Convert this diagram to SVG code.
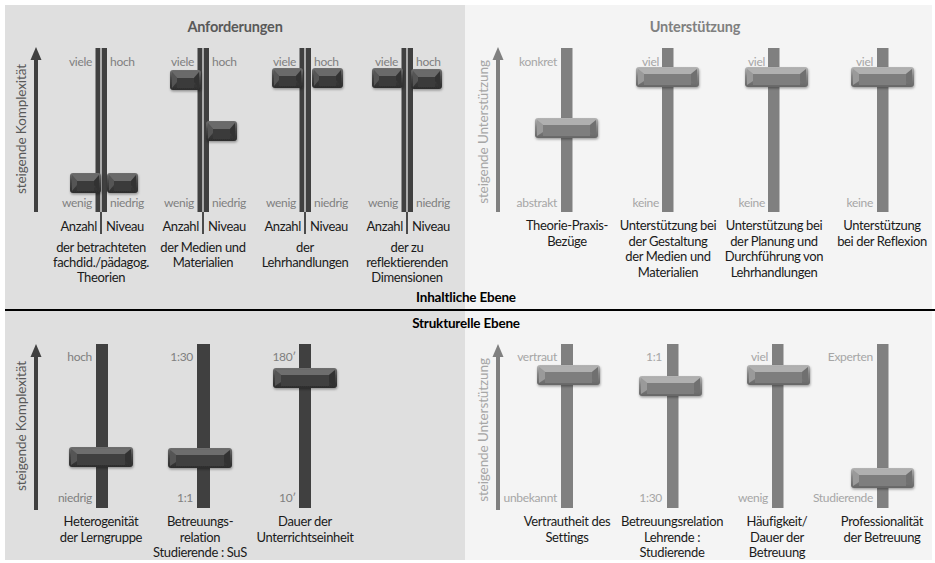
<svg xmlns="http://www.w3.org/2000/svg" xmlns:xlink="http://www.w3.org/1999/xlink" width="935" height="563" viewBox="0 0 935 563">
<style>
text{font-family:Lato,"Liberation Sans",sans-serif;}
.title{font-size:14.5px;font-weight:bold;text-anchor:middle;letter-spacing:-0.2px;}
.level{font-size:13.5px;font-weight:bold;text-anchor:middle;fill:#000;letter-spacing:-0.2px;}
.lblL{font-size:12px;fill:#808080;letter-spacing:-0.3px;}
.lblR{font-size:12px;fill:#a6a6a6;letter-spacing:-0.3px;}
.end{text-anchor:end;}
.cap{font-size:13px;fill:#1a1a1a;text-anchor:middle;letter-spacing:-0.35px;}
.axis{font-size:13.5px;text-anchor:middle;letter-spacing:-0.1px;}
.barD{fill:#404040;}
.barL{fill:#808080;}
</style>
<defs>
<linearGradient id="gD" x1="0" y1="0" x2="0" y2="1">
<stop offset="0" stop-color="#707070"/><stop offset="0.45" stop-color="#454545"/><stop offset="1" stop-color="#2c2c2c"/>
</linearGradient>
<linearGradient id="gL" x1="0" y1="0" x2="0" y2="1">
<stop offset="0" stop-color="#b5b5b5"/><stop offset="0.45" stop-color="#858585"/><stop offset="1" stop-color="#666"/>
</linearGradient>
<filter id="sh" x="-10%" y="-20%" width="130%" height="160%">
<feDropShadow dx="0.5" dy="1.5" stdDeviation="1.2" flood-color="#000" flood-opacity="0.35"/>
</filter>
<g id="kDs">
<rect x="0" y="0" width="31" height="20" rx="3" fill="url(#gD)"/>
<polygon points="2,1.5 29,1.5 24,8 7,8" fill="#6a6a6a"/>
<polygon points="2,2 7,8 7,12 2,18" fill="#555"/>
<polygon points="29,2 24,8 24,12 29,18" fill="#333"/>
<rect x="7" y="8" width="17" height="10" fill="#3a3a3a"/>
</g>
<g id="kDw">
<rect x="0" y="0" width="64" height="20" rx="3" fill="url(#gD)"/>
<polygon points="2,1.5 62,1.5 56,7 8,7" fill="#6e6e6e"/>
<polygon points="2,2 8,7 8,14 2,18" fill="#555"/>
<polygon points="62,2 56,7 56,14 62,18" fill="#333"/>
<rect x="8" y="7" width="48" height="11" fill="#404040"/>
</g>
<g id="kL">
<rect x="0" y="0" width="63" height="20" rx="3" fill="url(#gL)"/>
<polygon points="2,1.5 61,1.5 55,7 8,7" fill="#b0b0b0"/>
<polygon points="2,2 8,7 8,14 2,18" fill="#9a9a9a"/>
<polygon points="61,2 55,7 55,14 61,18" fill="#6f6f6f"/>
<rect x="8" y="7" width="47" height="11" fill="#7e7e7e"/>
</g>
</defs>

<rect width="935" height="563" fill="#fff"/>
<g id="panels">
<rect x="5" y="5" width="460" height="555" fill="#dfdfdf"/>
<rect x="465" y="5" width="467" height="555" fill="#f4f4f4"/>
<rect x="5" y="309" width="930" height="2" fill="#000"/>
</g>

<g id="titles">
<text class="title" x="235" y="32" fill="#595959">Anforderungen</text>
<text class="title" x="695" y="32" fill="#808080">Unterstützung</text>
<text class="level" x="466" y="302">Inhaltliche Ebene</text>
<text class="level" x="466" y="328">Strukturelle Ebene</text>
</g>

<g id="connectors">
<line x1="36" y1="212" x2="36" y2="58" stroke="#404040" stroke-width="4"/>
<polygon points="36,47 30.5,60 41.5,60" fill="#404040"/>
<line x1="498" y1="212" x2="498" y2="58" stroke="#808080" stroke-width="4"/>
<polygon points="498,47 492.5,60 503.5,60" fill="#808080"/>
<line x1="36" y1="510" x2="36" y2="355" stroke="#404040" stroke-width="4"/>
<polygon points="36,344 30.5,357 41.5,357" fill="#404040"/>
<line x1="498" y1="510" x2="498" y2="355" stroke="#808080" stroke-width="4"/>
<polygon points="498,344 492.5,357 503.5,357" fill="#808080"/>
</g>

<g id="axis-labels">
<text class="axis" transform="translate(26,129) rotate(-90)" fill="#595959">steigende Komplexität</text>
<text class="axis" transform="translate(488,132) rotate(-90)" fill="#a6a6a6">steigende Unterstützung</text>
<text class="axis" transform="translate(26,426) rotate(-90)" fill="#595959">steigende Komplexität</text>
<text class="axis" transform="translate(488,430) rotate(-90)" fill="#a6a6a6">steigende Unterstützung</text>
</g>

<!-- Top-left: Anforderungen pairs -->
<g id="req-theorien">
<rect class="barD" x="95.5" y="48" width="11.5" height="164"/>
<line x1="101" y1="48" x2="101" y2="212" stroke="#e6e6e6" stroke-width="1.3"/>
<line x1="101" y1="212" x2="101" y2="234" stroke="#1a1a1a" stroke-width="1.5"/>
<use href="#kDs" x="70" y="173" filter="url(#sh)"/>
<use href="#kDs" x="107" y="173" filter="url(#sh)"/>
<text class="lblL end" x="92" y="66">viele</text>
<text class="lblL" x="110" y="66">hoch</text>
<text class="lblL end" x="92" y="207">wenig</text>
<text class="lblL" x="110" y="207">niedrig</text>
<text class="cap" x="97" y="231" style="text-anchor:end">Anzahl</text>
<text class="cap" x="106" y="231" style="text-anchor:start">Niveau</text>
<text class="cap" x="101" y="252">der betrachteten</text>
<text class="cap" x="101" y="267">fachdid./pädagog.</text>
<text class="cap" x="101" y="282">Theorien</text>
</g>

<g id="req-medien">
<rect class="barD" x="197.5" y="48" width="11.5" height="164"/>
<line x1="203" y1="48" x2="203" y2="212" stroke="#e6e6e6" stroke-width="1.3"/>
<line x1="203" y1="212" x2="203" y2="234" stroke="#1a1a1a" stroke-width="1.5"/>
<use href="#kDs" x="170" y="70" filter="url(#sh)"/>
<use href="#kDs" x="206" y="121" filter="url(#sh)"/>
<text class="lblL end" x="194" y="66">viele</text>
<text class="lblL" x="212" y="66">hoch</text>
<text class="lblL end" x="194" y="207">wenig</text>
<text class="lblL" x="212" y="207">niedrig</text>
<text class="cap" x="199" y="231" style="text-anchor:end">Anzahl</text>
<text class="cap" x="208" y="231" style="text-anchor:start">Niveau</text>
<text class="cap" x="203" y="252">der Medien und</text>
<text class="cap" x="203" y="267">Materialien</text>
</g>

<g id="req-lehrhandlungen">
<rect class="barD" x="299.5" y="48" width="11.5" height="164"/>
<line x1="305" y1="48" x2="305" y2="212" stroke="#e6e6e6" stroke-width="1.3"/>
<line x1="305" y1="212" x2="305" y2="234" stroke="#1a1a1a" stroke-width="1.5"/>
<use href="#kDs" x="272" y="68" filter="url(#sh)"/>
<use href="#kDs" x="312" y="68" filter="url(#sh)"/>
<text class="lblL end" x="296" y="66">viele</text>
<text class="lblL" x="314" y="66">hoch</text>
<text class="lblL end" x="296" y="207">wenig</text>
<text class="lblL" x="314" y="207">niedrig</text>
<text class="cap" x="301" y="231" style="text-anchor:end">Anzahl</text>
<text class="cap" x="310" y="231" style="text-anchor:start">Niveau</text>
<text class="cap" x="305" y="252">der</text>
<text class="cap" x="305" y="267">Lehrhandlungen</text>
</g>

<g id="req-dimensionen">
<rect class="barD" x="401.5" y="48" width="11.5" height="164"/>
<line x1="407" y1="48" x2="407" y2="212" stroke="#e6e6e6" stroke-width="1.3"/>
<line x1="407" y1="212" x2="407" y2="234" stroke="#1a1a1a" stroke-width="1.5"/>
<use href="#kDs" x="372" y="68" filter="url(#sh)"/>
<use href="#kDs" x="411" y="69" filter="url(#sh)"/>
<text class="lblL end" x="398" y="66">viele</text>
<text class="lblL" x="416" y="66">hoch</text>
<text class="lblL end" x="398" y="207">wenig</text>
<text class="lblL" x="416" y="207">niedrig</text>
<text class="cap" x="403" y="231" style="text-anchor:end">Anzahl</text>
<text class="cap" x="412" y="231" style="text-anchor:start">Niveau</text>
<text class="cap" x="407" y="252">der zu</text>
<text class="cap" x="407" y="267">reflektierenden</text>
<text class="cap" x="407" y="282">Dimensionen</text>
</g>

<!-- Top-right: Unterstützung -->
<g id="sup-theorie-praxis">
<rect class="barL" x="561" y="48" width="11.5" height="164"/>
<use href="#kL" x="535" y="118" filter="url(#sh)"/>
<text class="lblR end" x="557" y="66">konkret</text>
<text class="lblR end" x="557" y="207">abstrakt</text>
<text class="cap" x="567" y="230">Theorie-Praxis-</text>
<text class="cap" x="567" y="246">Bezüge</text>
</g>

<g id="sup-medien">
<rect class="barL" x="662" y="48" width="11.5" height="164"/>
<use href="#kL" x="636" y="67" filter="url(#sh)"/>
<text class="lblR end" x="659" y="66">viel</text>
<text class="lblR end" x="659" y="207">keine</text>
<text class="cap" x="668" y="230">Unterstützung bei</text>
<text class="cap" x="668" y="246">der Gestaltung</text>
<text class="cap" x="668" y="261">der Medien und</text>
<text class="cap" x="668" y="277">Materialien</text>
</g>

<g id="sup-planung">
<rect class="barL" x="768" y="48" width="11.5" height="164"/>
<use href="#kL" x="745" y="67" filter="url(#sh)"/>
<text class="lblR end" x="765" y="66">viel</text>
<text class="lblR end" x="765" y="207">keine</text>
<text class="cap" x="774" y="230">Unterstützung bei</text>
<text class="cap" x="774" y="246">der Planung und</text>
<text class="cap" x="774" y="261">Durchführung von</text>
<text class="cap" x="774" y="277">Lehrhandlungen</text>
</g>

<g id="sup-reflexion">
<rect class="barL" x="877" y="48" width="11.5" height="164"/>
<use href="#kL" x="851" y="67" filter="url(#sh)"/>
<text class="lblR end" x="873" y="66">viel</text>
<text class="lblR end" x="873" y="207">keine</text>
<text class="cap" x="882" y="230">Unterstützung</text>
<text class="cap" x="882" y="246">bei der Reflexion</text>
</g>

<!-- Bottom-left: structural complexity -->
<g id="str-heterogenitaet">
<rect class="barD" x="96" y="344" width="12" height="164"/>
<use href="#kDw" x="69" y="447" filter="url(#sh)"/>
<text class="lblL end" x="92" y="361">hoch</text>
<text class="lblL end" x="92" y="502">niedrig</text>
<text class="cap" x="101" y="526">Heterogenität</text>
<text class="cap" x="101" y="542">der Lerngruppe</text>
</g>

<g id="str-betreuungsrelation">
<rect class="barD" x="197" y="344" width="13" height="164"/>
<use href="#kDw" x="168" y="448" filter="url(#sh)"/>
<text class="lblL end" x="193" y="361">1:30</text>
<text class="lblL end" x="193" y="502">1:1</text>
<text class="cap" x="200" y="526">Betreuungs-</text>
<text class="cap" x="200" y="542">relation</text>
<text class="cap" x="200" y="557">Studierende : SuS</text>
</g>

<g id="str-dauer">
<rect class="barD" x="299" y="344" width="12" height="164"/>
<use href="#kDw" x="273" y="368" filter="url(#sh)"/>
<text class="lblL end" x="296" y="361">180′</text>
<text class="lblL end" x="296" y="502">10′</text>
<text class="cap" x="305" y="526">Dauer der</text>
<text class="cap" x="305" y="542">Unterrichtseinheit</text>
</g>

<!-- Bottom-right: structural support -->
<g id="sup-vertrautheit">
<rect class="barL" x="561" y="344" width="12" height="164"/>
<use href="#kL" x="537" y="365" filter="url(#sh)"/>
<text class="lblR end" x="557" y="361">vertraut</text>
<text class="lblR end" x="557" y="502">unbekannt</text>
<text class="cap" x="567" y="526">Vertrautheit des</text>
<text class="cap" x="567" y="542">Settings</text>
</g>

<g id="sup-betreuungsrelation">
<rect class="barL" x="667" y="344" width="11.5" height="164"/>
<use href="#kL" x="639" y="376" filter="url(#sh)"/>
<text class="lblR end" x="662" y="361">1:1</text>
<text class="lblR end" x="662" y="502">1:30</text>
<text class="cap" x="672" y="526">Betreuungsrelation</text>
<text class="cap" x="672" y="542">Lehrende :</text>
<text class="cap" x="672" y="557">Studierende</text>
</g>

<g id="sup-haeufigkeit">
<rect class="barL" x="772" y="344" width="11.5" height="164"/>
<use href="#kL" x="747" y="365" filter="url(#sh)"/>
<text class="lblR end" x="768" y="361">viel</text>
<text class="lblR end" x="768" y="502">wenig</text>
<text class="cap" x="777" y="526">Häufigkeit/</text>
<text class="cap" x="777" y="542">Dauer der</text>
<text class="cap" x="777" y="557">Betreuung</text>
</g>

<g id="sup-professionalitaet">
<rect class="barL" x="877" y="344" width="11.5" height="164"/>
<use href="#kL" x="851" y="468" filter="url(#sh)"/>
<text class="lblR end" x="873" y="361">Experten</text>
<text class="lblR end" x="873" y="502">Studierende</text>
<text class="cap" x="882" y="526">Professionalität</text>
<text class="cap" x="882" y="542">der Betreuung</text>
</g>
</svg>
